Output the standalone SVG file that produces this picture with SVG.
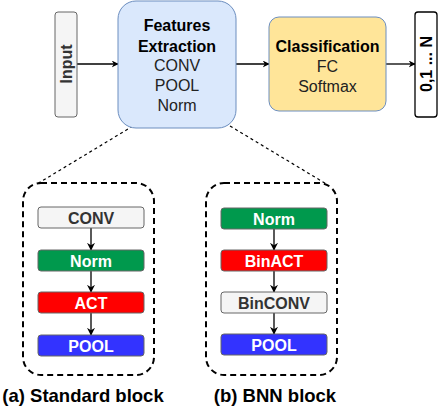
<svg xmlns="http://www.w3.org/2000/svg" width="438" height="406" viewBox="0 0 438 406">
<defs>
<marker id="ah" viewBox="0 0 10 10" refX="9" refY="5" markerWidth="7" markerHeight="7" orient="auto" markerUnits="userSpaceOnUse">
<path d="M0,0 L10,5 L0,10 L3,5 Z" fill="#000"/>
</marker>
<marker id="ahs" viewBox="0 0 10 10" refX="9" refY="5" markerWidth="8" markerHeight="8" orient="auto" markerUnits="userSpaceOnUse">
<path d="M0,0 L10,5 L0,10 L3,5 Z" fill="#000"/>
</marker>
<style>
text{font-family:"Liberation Sans",Arial,sans-serif;text-anchor:middle}
.b{font-weight:bold}
.big{font-size:16px}
.sm{font-size:16px;font-weight:bold}
.conn{stroke:#000;stroke-width:1.3;fill:none}
.dot{stroke:#000;stroke-width:1.2;stroke-dasharray:3,3;fill:none}
.blk{stroke:#000;stroke-width:2;stroke-dasharray:6,4;fill:none}
.gray{fill:#f5f5f5;stroke:#666;stroke-width:1}
.grn{fill:#00994d;stroke:#666;stroke-width:1}
.red{fill:#ff0000;stroke:#666;stroke-width:1}
.blu{fill:#3333ff;stroke:#666;stroke-width:1}
.w{fill:#fff}
.d{fill:#333}
</style>
</defs>
<g id="connectors">
<line class="conn" x1="77" y1="64" x2="118" y2="64" marker-end="url(#ah)"/>
<line class="conn" x1="236" y1="64" x2="269" y2="64" marker-end="url(#ah)"/>
<line class="conn" x1="386" y1="64" x2="415" y2="64" marker-end="url(#ah)"/>
<line class="dot" x1="133" y1="126" x2="37" y2="184"/>
<line class="dot" x1="230" y1="126" x2="328" y2="185"/>
<line class="conn" x1="91" y1="228" x2="91" y2="250" marker-end="url(#ahs)"/>
<line class="conn" x1="91" y1="271" x2="91" y2="292" marker-end="url(#ahs)"/>
<line class="conn" x1="91" y1="313" x2="91" y2="335" marker-end="url(#ahs)"/>
<line class="conn" x1="274" y1="229" x2="274" y2="250" marker-end="url(#ahs)"/>
<line class="conn" x1="274" y1="271" x2="274" y2="292" marker-end="url(#ahs)"/>
<line class="conn" x1="274" y1="313" x2="274" y2="334" marker-end="url(#ahs)"/>
</g>
<g id="input">
<rect x="55" y="12" width="22" height="105" rx="3" class="gray"/>
<text transform="translate(72,64) rotate(-90)" class="b" font-size="16" fill="#333">Input</text>
</g>
<g id="features">
<rect x="118" y="1" width="118" height="127" rx="18" fill="#dae8fc" stroke="#6c8ebf" stroke-width="1"/>
<text x="177" y="31" class="big b">Features</text>
<text x="177" y="51.5" class="big b">Extraction</text>
<text x="177" y="71" class="big" fill="#222">CONV</text>
<text x="177" y="91" class="big" fill="#222">POOL</text>
<text x="177" y="110.5" class="big" fill="#222">Norm</text>
</g>
<g id="classification">
<rect x="269" y="17" width="117" height="94" rx="10" fill="#ffe599" stroke="#6c8ebf" stroke-width="1"/>
<text x="327.5" y="51.5" class="big b">Classification</text>
<text x="327.5" y="71.5" class="big" fill="#222">FC</text>
<text x="327.5" y="91.5" class="big" fill="#222">Softmax</text>
</g>
<g id="output">
<rect x="415" y="12" width="22" height="105" rx="3" fill="#fff" stroke="#000" stroke-width="1.3"/>
<text transform="translate(432,64) rotate(-90)" class="b" font-size="16">0,1 ... N</text>
</g>
<g id="standard-block">
<rect x="23" y="183" width="131" height="192" rx="18" class="blk"/>
<g id="a-conv"><rect x="38" y="207" width="106" height="21" rx="3" class="gray"/><text x="91" y="223.5" class="sm d">CONV</text></g>
<g id="a-norm"><rect x="38" y="250" width="106" height="21" rx="3" class="grn"/><text x="91" y="266.5" class="sm w">Norm</text></g>
<g id="a-act"><rect x="38" y="292" width="106" height="21" rx="3" class="red"/><text x="91" y="308.5" class="sm w">ACT</text></g>
<g id="a-pool"><rect x="38" y="335" width="106" height="21" rx="3" class="blu"/><text x="91" y="351.5" class="sm w">POOL</text></g>
<text x="83" y="401.5" class="b" font-size="18.5">(a) Standard block</text>
</g>
<g id="bnn-block">
<rect x="206" y="183" width="131" height="192" rx="18" class="blk"/>
<g id="b-norm"><rect x="221" y="208" width="106" height="21" rx="3" class="grn"/><text x="274" y="224.5" class="sm w">Norm</text></g>
<g id="b-binact"><rect x="221" y="250" width="106" height="21" rx="3" class="red"/><text x="274" y="266.5" class="sm w">BinACT</text></g>
<g id="b-binconv"><rect x="221" y="292" width="106" height="21" rx="3" class="gray"/><text x="274" y="308.5" class="sm d">BinCONV</text></g>
<g id="b-pool"><rect x="221" y="334" width="106" height="21" rx="3" class="blu"/><text x="274" y="350.5" class="sm w">POOL</text></g>
<text x="275" y="401.5" class="b" font-size="18.5">(b) BNN block</text>
</g>
</svg>
